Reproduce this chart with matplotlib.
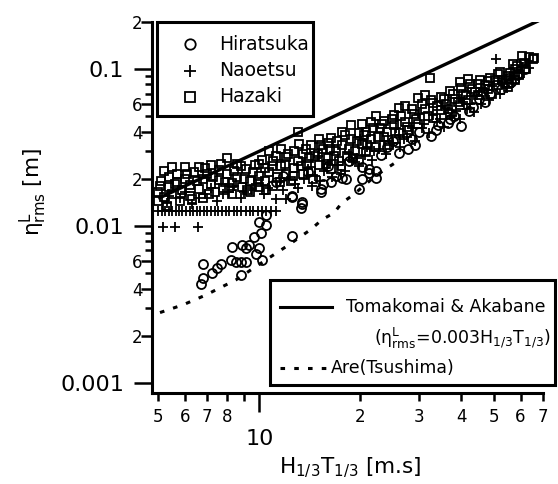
import matplotlib
matplotlib.use("Agg")
import matplotlib.pyplot as plt
from matplotlib.ticker import FixedLocator, FixedFormatter
from matplotlib.patches import Rectangle
from matplotlib.lines import Line2D

plt.rcParams['font.family'] = ['DejaVu Sans']
plt.rcParams['mathtext.fontset'] = 'custom'
plt.rcParams['mathtext.rm'] = 'DejaVu Sans'
plt.rcParams['mathtext.it'] = 'DejaVu Sans:italic'
plt.rcParams['mathtext.default'] = 'rm'

# ---------------- data ----------------
hazaki_x = [5.0, 5.0, 5.1, 5.2, 5.2, 5.4, 5.4, 5.5, 5.5, 5.7, 5.7, 5.9, 6.0, 6.0,
            6.2, 6.2, 6.4, 6.6, 6.6, 6.8, 6.8, 7.0, 7.2, 7.2, 7.4, 7.6, 7.6, 7.8,
            8.0, 8.0, 8.3, 8.3, 8.6, 8.6, 8.9, 9.1, 9.4, 9.4, 9.7, 10.0, 10.0, 10.0,
            10.4, 10.4, 10.7, 10.7, 11.0, 11.0, 11.3, 11.6, 11.6, 12.0, 12.0, 12.4,
            12.7, 12.7, 13.0, 13.0, 13.1, 13.5, 13.5, 13.9, 14.3, 14.3, 14.7, 15.1,
            15.1, 15.5, 16.0, 16.0, 16.4, 16.4, 16.9, 17.3, 17.6, 17.6, 18.2, 18.8,
            18.8, 19.3, 19.8, 19.8, 20.2, 20.2,
            20.8, 20.8, 21.5, 21.5, 22.2, 22.2, 22.9, 23.6, 23.6, 24.4, 25.2, 25.2,
            26.0, 26.0, 27.1, 27.1, 28.0, 28.9, 29.8, 29.8, 31.2, 31.2, 32.3, 33.0,
            33.0, 34.8, 34.8, 36.0, 37.0, 37.0, 38.2, 39.5, 39.5, 40.5, 41.8, 41.8,
            43.0, 44.8, 44.8, 46.3, 47.9, 47.9, 49.5, 51.3, 51.3, 53.0, 54.9, 54.9,
            56.8, 57.6, 57.6, 59.5, 60.7, 62.5, 65.3,
            5.05, 5.3, 5.6, 5.8, 6.1, 6.3, 6.5, 6.9, 7.1, 7.3, 7.7, 7.9, 8.1, 8.4,
            8.8, 9.0, 9.2, 9.6, 9.9, 10.2, 10.5, 10.9, 11.2, 11.5, 11.9, 12.2, 12.6,
            13.3, 13.8, 14.1, 14.5, 15.0, 15.3, 15.8, 16.2, 16.7, 17.0, 17.5, 18.0,
            18.5, 19.0, 19.5, 20.5, 21.0, 21.8, 22.5, 23.2, 24.0, 24.8, 25.6, 26.5,
            27.5, 28.5, 29.3, 30.5, 31.8, 32.5, 33.8, 35.5, 36.5, 37.8, 39.0, 40.0,
            41.2, 42.5, 43.8, 45.5, 47.0, 48.8, 50.5, 52.2, 54.0, 56.0, 58.5, 61.5,
            63.8, 66.0]
hazaki_y = [0.0145, 0.0165, 0.0195, 0.0153, 0.0225, 0.0177, 0.0205, 0.0237, 0.0160,
            0.0190, 0.0215, 0.0170, 0.0237, 0.0200, 0.0155, 0.0182, 0.0220, 0.0237,
            0.0172, 0.0200, 0.0150, 0.0215, 0.0246, 0.0185, 0.0165, 0.0228, 0.0198,
            0.0175, 0.0270, 0.0215, 0.0188, 0.0160, 0.0250, 0.0205, 0.0178, 0.0232,
            0.0195, 0.0165, 0.0245, 0.0250, 0.0210, 0.0178,
            0.0195, 0.0235, 0.0300, 0.0220, 0.0180, 0.0260, 0.0205, 0.0310, 0.0240,
            0.0215, 0.0275, 0.0195, 0.0300, 0.0235, 0.0400, 0.0260, 0.0333, 0.0215,
            0.0290, 0.0250, 0.0330, 0.0225, 0.0280, 0.0361, 0.0245, 0.0310, 0.0270,
            0.0340, 0.0364, 0.0230, 0.0300, 0.0260, 0.0400, 0.0330, 0.0280, 0.0440,
            0.0360, 0.0300, 0.0390, 0.0265, 0.0450, 0.0335,
            0.0295, 0.0400, 0.0360, 0.0460, 0.0500, 0.0320, 0.0420, 0.0370, 0.0470,
            0.0330, 0.0440, 0.0510, 0.0570, 0.0390, 0.0580, 0.0460, 0.0410, 0.0520,
            0.0660, 0.0450, 0.0690, 0.0560, 0.0880, 0.0490, 0.0610, 0.0670, 0.0550,
            0.0600, 0.0730, 0.0520, 0.0650, 0.0830, 0.0590, 0.0700, 0.0860, 0.0640,
            0.0750, 0.0800, 0.0680, 0.0720, 0.0750, 0.0840, 0.0700, 0.0930, 0.0790,
            0.0850, 0.0900, 0.0770, 0.1080, 0.1000, 0.0850, 0.0920, 0.1210, 0.1000,
            0.1160,
            0.0180, 0.0135, 0.0185, 0.0145, 0.0215, 0.0148, 0.0195, 0.0235, 0.0160,
            0.0205, 0.0250, 0.0190, 0.0175, 0.0225, 0.0240, 0.0200, 0.0170, 0.0220,
            0.0190, 0.0265, 0.0170, 0.0240, 0.0280, 0.0190, 0.0250, 0.0290, 0.0210,
            0.0240, 0.0310, 0.0270, 0.0200, 0.0290, 0.0330, 0.0250, 0.0310, 0.0280,
            0.0350, 0.0240, 0.0380, 0.0310, 0.0270, 0.0350, 0.0380, 0.0330, 0.0420,
            0.0370, 0.0450, 0.0400, 0.0480, 0.0360, 0.0500, 0.0430, 0.0560, 0.0480,
            0.0600, 0.0500, 0.0640, 0.0580, 0.0650, 0.0560, 0.0700, 0.0620, 0.0760,
            0.0680, 0.0800, 0.0720, 0.0850, 0.0790, 0.0880, 0.0850, 0.0960, 0.0820,
            0.0950, 0.1050, 0.1100, 0.1200, 0.1180]

naoetsu_x = [5.0, 5.12, 5.25, 5.38, 5.5, 5.63, 5.76, 5.9, 6.05, 6.2, 6.35, 6.5,
             6.66, 6.82, 7.0, 7.18, 7.36, 7.55, 7.75, 7.95, 8.15, 8.4, 8.6, 8.85,
             9.1, 9.35, 9.6, 9.9, 10.2, 10.5, 10.8, 11.2,
             5.17, 5.6, 6.55,
             5.3, 5.8, 6.3, 6.9, 7.5, 8.1, 8.8, 9.5, 10.3, 11.2, 11.8, 12.0, 12.8,
             13.6, 14.4, 14.7, 15.6, 16.5, 17.2, 18.0, 18.9, 19.8, 20.7, 21.7, 22.7,
             23.8, 25.0, 26.3, 27.6, 29.0, 30.5, 32.0, 33.8, 35.5, 37.5, 39.5, 41.5,
             43.5, 45.8, 48.2, 50.6, 52.0, 54.5, 57.0, 59.5, 61.5, 63.5,
             15.0, 20.0, 25.5, 30.0, 35.0, 40.0, 45.0,
             5.4, 6.0, 6.6, 7.2, 7.8, 8.4, 9.0, 9.8, 10.6, 11.5, 12.3, 13.0, 14.0,
             15.2, 16.0, 17.5, 18.5, 19.5, 21.0, 22.0, 23.5, 24.5, 26.0, 27.0, 28.5,
             31.0, 33.0, 34.5, 36.5, 38.5, 40.5, 42.5, 44.5, 47.0, 49.5, 53.0, 56.0,
             58.5, 60.5, 62.5]
naoetsu_y = [0.0125] * 32 + [0.0099, 0.0099, 0.0099] + [
             0.0140, 0.0150, 0.0138, 0.0160, 0.0145, 0.0165, 0.0150, 0.0170, 0.0160,
             0.0149, 0.0170, 0.0149, 0.0185, 0.0200, 0.0180, 0.0210, 0.0225, 0.0205,
             0.0245, 0.0225, 0.0260, 0.0240, 0.0285, 0.0265, 0.0310, 0.0290, 0.0340,
             0.0320, 0.0370, 0.0350, 0.0420, 0.0395, 0.0460, 0.0430, 0.0500, 0.0480,
             0.0560, 0.0530, 0.0600, 0.0640, 0.1160, 0.0700, 0.0760, 0.0820, 0.0880,
             0.0950, 0.1020,
             0.0280, 0.0360, 0.0420, 0.0520, 0.0580, 0.0650, 0.0720,
             0.0155, 0.0165, 0.0150, 0.0175, 0.0160, 0.0180, 0.0165, 0.0185, 0.0175,
             0.0190, 0.0200, 0.0175, 0.0230, 0.0195, 0.0250, 0.0215, 0.0290, 0.0270,
             0.0320, 0.0300, 0.0350, 0.0330, 0.0380, 0.0360, 0.0420, 0.0450, 0.0510,
             0.0480, 0.0560, 0.0540, 0.0620, 0.0600, 0.0680, 0.0740, 0.0780, 0.0830,
             0.0900, 0.0960, 0.1040, 0.1100]

hiratsuka_x = [6.72, 6.78, 6.78, 7.22, 7.5, 7.67, 8.3, 8.26, 8.55, 8.84, 9.15, 8.84,
               8.9, 9.15, 9.34, 9.67, 10.0, 10.2, 10.1, 10.5, 9.8, 12.5, 10.0, 10.5,
               11.2, 12.5, 12.5, 13.3, 13.4, 13.4, 15.3, 15.3, 15.5, 16.4, 16.9, 17.6,
               18.1, 19.8, 20.2, 20.2, 21.2, 21.2, 22.2, 22.2, 23.1, 26.0, 27.8, 32.5,
               36.5, 39.9, 43.3, 46.9, 52.4, 56.1,
               11.8, 14.0, 16.0, 18.5, 24.0, 25.0, 28.5, 30.0, 34.0, 38.0, 42.0, 45.0,
               48.5, 55.0, 58.5, 62.0, 29.0, 33.5, 37.0]
hiratsuka_y = [0.0043, 0.0047, 0.0057, 0.0050, 0.0054, 0.0057, 0.0074, 0.0061,
               0.0059, 0.0059, 0.0059, 0.0049, 0.0076, 0.0073, 0.0076, 0.0085, 0.0073,
               0.0061, 0.0091, 0.0102, 0.0066, 0.0086, 0.0106, 0.0118,
               0.0190, 0.0153, 0.0155, 0.0131, 0.0138, 0.0143, 0.0166, 0.0172, 0.0185,
               0.0191, 0.0209, 0.0204, 0.0199, 0.0172, 0.0199, 0.0239, 0.0219, 0.0231,
               0.0204, 0.0225, 0.0286, 0.0293, 0.0310, 0.0377, 0.0454, 0.0436, 0.0573,
               0.0617, 0.0747, 0.0826,
               0.0210, 0.0220, 0.0240, 0.0260, 0.0320, 0.0350, 0.0360, 0.0400, 0.0440,
               0.0500, 0.0540, 0.0650, 0.0700, 0.0880, 0.0920, 0.1000, 0.0330, 0.0410,
               0.0480]

# Tomakomai & Akabane relation: eta = coef * H1/3 * T1/3
tomakomai_coef = 0.003
tomakomai_x = [5.0, 68.0]

# Are (Tsushima) curve
tsushima_x = [5.06, 5.54, 5.93, 6.42, 6.96, 7.44, 7.97, 8.53, 10.2, 12.27, 14.22,
              15.39, 16.68, 17.63, 19.1, 20.7, 22.14, 23.7, 25.37]
tsushima_y = [0.00281, 0.00300, 0.00315, 0.00339, 0.00365, 0.00393, 0.00423,
              0.00455, 0.00587, 0.00762, 0.0095, 0.0110, 0.01213, 0.01406, 0.0159,
              0.0184, 0.0208, 0.0230, 0.0253]

x_major = [10]
x_major_labels = ['10']
x_minor = [5, 6, 7, 8, 9, 20, 30, 40, 50, 60, 70]
x_minor_labels = ['5', '6', '7', '8', '', '2', '3', '4', '5', '6', '7']
y_major = [0.001, 0.01, 0.1]
y_major_labels = ['0.001', '0.01', '0.1']
y_minor = [0.002, 0.003, 0.004, 0.005, 0.006, 0.007, 0.008, 0.009,
           0.02, 0.03, 0.04, 0.05, 0.06, 0.07, 0.08, 0.09, 0.2]
y_minor_labels = ['2', '', '4', '', '6', '', '', '',
                  '2', '', '4', '', '6', '', '', '', '2']

# ---------------- figure ----------------
W, H = 558, 484
fig = plt.figure(figsize=(W / 100, H / 100), dpi=100)


def at(px, py):
    """figure fraction from a position measured from the top-left corner"""
    return px / W, 1 - py / H


ax = fig.add_axes([152 / W, 1 - 393 / H, 391 / W, 371 / H])
ax.set_xscale('log')
ax.set_yscale('log')
ax.set_xlim(4.79, 70)
ax.set_ylim(0.000863, 0.2)

mk = dict(linestyle='none', color='black', markerfacecolor='none',
          markeredgewidth=1.3, clip_on=False)
ax.plot(hiratsuka_x, hiratsuka_y, marker='o', markersize=6.5, **mk)
ax.plot(naoetsu_x, naoetsu_y, marker='+', markersize=7, **mk)
ax.plot(hazaki_x, hazaki_y, marker='s', markersize=6.2, **mk)

ax.plot(tomakomai_x, [tomakomai_coef * v for v in tomakomai_x],
        color='black', linewidth=2.4, solid_capstyle='butt')
ax.plot(tsushima_x, tsushima_y, color='black', linewidth=2.2,
        linestyle=(0, (1.5, 3.0)))

# spines
for s in ('top', 'right'):
    ax.spines[s].set_visible(False)
for s in ('left', 'bottom'):
    ax.spines[s].set_linewidth(2.2)

# ticks
ax.xaxis.set_major_locator(FixedLocator(x_major))
ax.xaxis.set_major_formatter(FixedFormatter(x_major_labels))
ax.xaxis.set_minor_locator(FixedLocator(x_minor))
ax.xaxis.set_minor_formatter(FixedFormatter(x_minor_labels))
ax.yaxis.set_major_locator(FixedLocator(y_major))
ax.yaxis.set_major_formatter(FixedFormatter(y_major_labels))
ax.yaxis.set_minor_locator(FixedLocator(y_minor))
ax.yaxis.set_minor_formatter(FixedFormatter(y_minor_labels))

ax.tick_params(axis='x', which='major', direction='out', length=14, width=1.8,
               labelsize=16, pad=12)
ax.tick_params(axis='x', which='minor', direction='out', length=6, width=1.8,
               labelsize=12, pad=5)
ax.tick_params(axis='y', which='major', direction='out', length=13, width=1.8,
               labelsize=16, pad=7)
ax.tick_params(axis='y', which='minor', direction='out', length=5, width=1.8,
               labelsize=12, pad=2)

# labelled minor ticks on the y axis are drawn a little longer
for tick, lab in zip(ax.yaxis.get_minor_ticks(len(y_minor)), y_minor_labels):
    if lab:
        tick.tick1line.set_markersize(8)

# axis titles
fig.text(*at(33, 192), r'$\eta^{\rm L}_{\rm rms}$ [m]', rotation=90,
         ha='center', va='center', fontsize=15.5)
fig.text(*at(350, 468), r'H$_{1/3}$T$_{1/3}$ [m.s]', ha='center', va='center',
         fontsize=15.5)

# legend: observation sites
fig.add_artist(Rectangle(at(157, 116), 156 / W, 94 / H, transform=fig.transFigure,
                         fill=False, edgecolor='black', linewidth=2.2))
site_entries = [('o', 'Hiratsuka', 44, 7.5), ('+', 'Naoetsu', 71, 8.5),
                ('s', 'Hazaki', 97, 7.2)]
for m, name, yy, ms in site_entries:
    fig.add_artist(Line2D([at(190, yy)[0]], [at(190, yy)[1]], marker=m,
                          markersize=ms, color='black', markerfacecolor='none',
                          markeredgewidth=1.3, transform=fig.transFigure))
    fig.text(*at(219, yy), name, ha='left', va='center', fontsize=13.5)

# legend: empirical relations
fig.add_artist(Rectangle(at(270, 385), 285 / W, 105 / H, transform=fig.transFigure,
                         fill=False, edgecolor='black', linewidth=2.2))
x0, y0 = at(280, 307)
x1, _ = at(332, 307)
fig.add_artist(Line2D([x0, x1], [y0, y0], color='black', linewidth=2.2,
                      transform=fig.transFigure))
fig.text(*at(346, 307), 'Tomakomai & Akabane', ha='left', va='center',
         fontsize=12.5)
fig.text(*at(551, 338),
         r'($\eta^{\rm L}_{\rm rms}$=0.003H$_{1/3}$T$_{1/3}$)',
         ha='right', va='center', fontsize=12.5)
x0, y0 = at(280, 368)
x1, _ = at(326, 368)
fig.add_artist(Line2D([x0, x1], [y0, y0], color='black', linewidth=2.2,
                      linestyle=(0, (1.5, 3.0)), transform=fig.transFigure))
fig.text(*at(331, 368), 'Are(Tsushima)', ha='left', va='center', fontsize=12.5)

fig.savefig('out.png', dpi=100)
